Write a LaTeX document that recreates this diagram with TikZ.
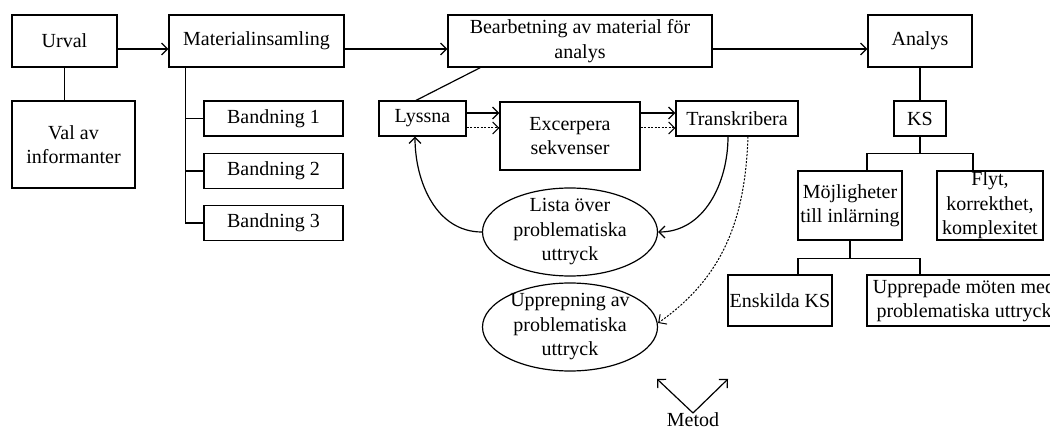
\documentclass[tikz,border=0pt]{standalone}
\usepackage{fontspec}
\setmainfont{Liberation Serif}
\usetikzlibrary{arrows.meta,shapes.geometric}
\begin{document}
\begin{tikzpicture}[x=1pt,y=-1pt,
  every node/.style={font=\fontsize{20}{24.5}\selectfont, align=center, inner sep=0pt},
  box/.style={draw, line width=1.2pt, rectangle},
  oval/.style={draw, line width=1.2pt, ellipse, inner xsep=0pt, inner ysep=-6pt, minimum width=175pt, minimum height=88pt},
  con/.style={line width=1.2pt},
  arr/.style={con, -{Straight Barb[length=6pt,width=12pt]}},
  dots/.style={line width=1pt, dash pattern=on 2pt off 1.5pt}
]
\useasboundingbox (0,0) rectangle (1050,430);
\clip (0,0) rectangle (1050,430);

% top row
\node[box, minimum width=105pt, minimum height=52pt] (urval) at (64.5,41) {Urval};
\node[box, minimum width=123pt, minimum height=87pt] (val) at (73.5,144.5) {Val av\\informanter};
\node[box, minimum width=175pt, minimum height=52pt] (mat) at (256.5,41) {Materialinsamling};
\node[box, minimum width=264pt, minimum height=52pt] (bear) at (580,41) {Bearbetning av material för\\analys};
\node[box, minimum width=104pt, minimum height=52pt] (analys) at (920,41) {Analys};

% Bandning
\node[box, minimum width=139pt, minimum height=35pt] (b1) at (273.5,118.5) {Bandning 1};
\node[box, minimum width=139pt, minimum height=35pt] (b2) at (273.5,171) {Bandning 2};
\node[box, minimum width=139pt, minimum height=35pt] (b3) at (273.5,223) {Bandning 3};

% processing
\node[box, minimum width=87pt, minimum height=35pt] (lyssna) at (422.5,118.5) {Lyssna};
\node[box, minimum width=140pt, minimum height=68pt] (exc) at (570,136) {Excerpera\\sekvenser};
\node[box, minimum width=122pt, minimum height=35pt] (trans) at (737,118.5) {Transkribera};
\node[oval] (lista) at (570,232) {Lista över\\problematiska\\uttryck};
\node[oval] (upp) at (570,327) {Upprepning av\\problematiska\\uttryck};

% analysis tree
\node[box, minimum width=52pt, minimum height=35pt] (ks) at (920,118.5) {KS};
\node[box, minimum width=104pt, minimum height=69pt] (moj) at (850,205.5) {Möjligheter\\till inlärning};
\node[box, minimum width=106pt, minimum height=69pt] (flyt) at (990,205.5) {Flyt,\\korrekthet,\\komplexitet};
\node[box, minimum width=104pt, minimum height=51pt] (ensk) at (780,300.5) {Enskilda KS};
\node[box, minimum width=194pt, minimum height=51pt] (upprep) at (964,300.5) {Upprepade möten med\\problematiska uttryck};

% Metod
\node (metod) at (693,420) {Metod};
\coordinate (mv) at (693,413);
\coordinate (ml) at (657,379);
\coordinate (mr) at (728,379);
\draw[arr] (mv) -- (ml);
\draw[arr] (mv) -- (mr);

% main flow
\draw[arr] ([yshift=-8pt]urval.east) -- ([yshift=-8pt]mat.west);
\draw[arr] ([yshift=-8pt]mat.east) -- ([yshift=-8pt]bear.west);
\draw[arr] ([yshift=-8pt]bear.east) -- ([yshift=-8pt]analys.west);
\draw[con] (urval.south) -- (urval.south |- val.north);

% material trunk
\coordinate (mt) at ([xshift=17pt]mat.south west);
\draw[con] (mt) |- (b3.west);
\draw[con] (mt |- b1.west) -- (b1.west);
\draw[con] (mt |- b2.west) -- (b2.west);

% processing connectors
\draw[con] ([xshift=-6.5pt]lyssna.north) -- ([xshift=33pt]bear.south west);
\coordinate (la) at ([yshift=5.5pt]lyssna.east);
\coordinate (lb) at ([yshift=-9.5pt]lyssna.east);
\draw[arr] (la) -- (la -| exc.west);
\draw[arr,dots] (lb) -- (lb -| exc.west);
\coordinate (ea) at (exc.east |- la);
\coordinate (eb) at (exc.east |- lb);
\draw[arr] (ea) -- (ea -| trans.west);
\draw[arr,dots] (eb) -- (eb -| trans.west);
\draw[arr] ([xshift=-9pt]trans.south) to[out=-90,in=0] (lista.east);
\draw[arr] (lista.west) to[out=180,in=-90] ([xshift=-7.5pt]lyssna.south);
\draw[arr,dots] ([xshift=11pt]trans.south) to[out=-92,in=35] ([yshift=4pt]upp.east);

% analysis connectors
\draw[con] (analys.south) -- (ks.north);
\coordinate (kj) at ([yshift=-17pt]ks.south);
\draw[con] (ks.south) -- (kj);
\draw[con] ([xshift=17pt]moj.north) |- (kj) -| ([xshift=-17pt]flyt.north);
\coordinate (mj) at ([yshift=-18pt]moj.south);
\draw[con] (moj.south) -- (mj);
\draw[con] ([xshift=18pt]ensk.north) |- (mj) -| ([xshift=-44pt]upprep.north);
\end{tikzpicture}
\end{document}
